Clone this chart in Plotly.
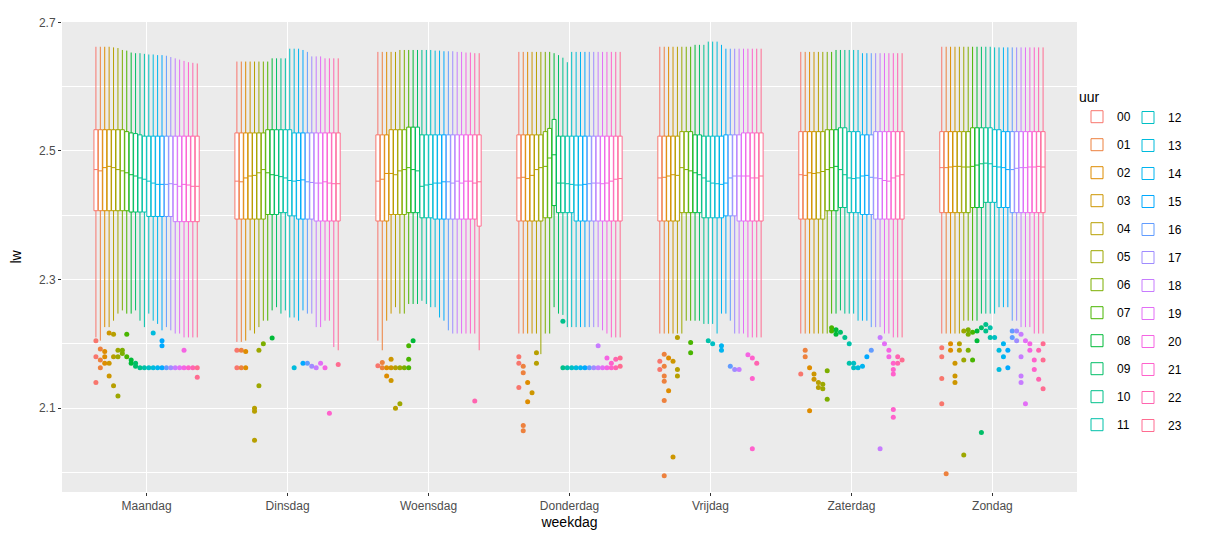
import math
import plotly.graph_objects as go

days = ["Maandag", "Dinsdag", "Woensdag", "Donderdag", "Vrijdag", "Zaterdag", "Zondag"]
hours = ["00", "01", "02", "03", "04", "05", "06", "07", "08", "09", "10", "11",
         "12", "13", "14", "15", "16", "17", "18", "19", "20", "21", "22", "23"]

# ---- Maandag ----
up_ma = [2.662, 2.662, 2.662, 2.662, 2.661, 2.660, 2.657, 2.656, 2.653, 2.652, 2.652, 2.651,
         2.650, 2.650, 2.649, 2.649, 2.648, 2.646, 2.644, 2.642, 2.640, 2.638, 2.637, 2.636]
q3_ma = [2.533, 2.533, 2.533, 2.533, 2.533, 2.533, 2.533, 2.530, 2.528, 2.527, 2.525, 2.523,
         2.523, 2.523, 2.523, 2.523, 2.523, 2.523, 2.523, 2.523, 2.523, 2.523, 2.523, 2.523]
md_ma = [2.471, 2.469, 2.474, 2.476, 2.474, 2.471, 2.469, 2.466, 2.463, 2.461, 2.458, 2.456,
         2.453, 2.450, 2.448, 2.448, 2.448, 2.449, 2.448, 2.445, 2.448, 2.447, 2.445, 2.445]
q1_ma = [2.407, 2.407, 2.407, 2.407, 2.407, 2.407, 2.407, 2.407, 2.405, 2.405, 2.405, 2.405,
         2.398, 2.398, 2.398, 2.398, 2.398, 2.398, 2.390, 2.390, 2.390, 2.390, 2.390, 2.390]
lo_ma = [2.210, 2.205, 2.226, 2.226, 2.236, 2.247, 2.252, 2.247, 2.247, 2.252, 2.236, 2.226,
         2.247, 2.236, 2.231, 2.221, 2.226, 2.221, 2.216, 2.216, 2.210, 2.210, 2.210, 2.210]
out_ma = [(0, 2.205), (0, 2.18), (0, 2.14), (1, 2.192), (1, 2.163), (1, 2.175), (2, 2.18), (2, 2.17),
          (2, 2.188), (3, 2.217), (3, 2.17), (3, 2.15), (4, 2.215), (4, 2.135), (4, 2.18), (5, 2.119),
          (5, 2.19), (5, 2.18), (6, 2.185), (6, 2.19), (7, 2.215), (7, 2.18), (8, 2.175), (8, 2.17),
          (9, 2.17), (9, 2.165), (10, 2.163), (11, 2.163), (12, 2.163), (13, 2.217), (13, 2.163),
          (14, 2.163), (15, 2.205), (15, 2.197), (15, 2.163), (16, 2.163), (17, 2.163), (18, 2.163),
          (19, 2.163), (20, 2.19), (20, 2.163), (21, 2.163), (22, 2.163), (23, 2.163), (23, 2.148)]

# ---- Dinsdag ----
up_di = [2.639, 2.639, 2.639, 2.639, 2.639, 2.639, 2.639, 2.639, 2.644, 2.644, 2.644, 2.644,
         2.659, 2.659, 2.659, 2.657, 2.654, 2.647, 2.647, 2.647, 2.644, 2.644, 2.644, 2.644]
q3_di = [2.528, 2.528, 2.528, 2.528, 2.528, 2.528, 2.528, 2.533, 2.533, 2.533, 2.533, 2.533,
         2.533, 2.528, 2.528, 2.528, 2.528, 2.528, 2.528, 2.528, 2.528, 2.528, 2.528, 2.528]
md_di = [2.453, 2.452, 2.458, 2.461, 2.462, 2.466, 2.471, 2.466, 2.463, 2.462, 2.460, 2.458,
         2.454, 2.453, 2.454, 2.455, 2.452, 2.451, 2.450, 2.450, 2.452, 2.450, 2.449, 2.449]
q1_di = [2.394, 2.394, 2.394, 2.394, 2.394, 2.394, 2.394, 2.401, 2.401, 2.401, 2.404, 2.404,
         2.399, 2.399, 2.394, 2.394, 2.394, 2.394, 2.391, 2.391, 2.391, 2.391, 2.391, 2.391]
lo_di = [2.203, 2.203, 2.205, 2.221, 2.216, 2.226, 2.236, 2.236, 2.252, 2.257, 2.247, 2.252,
         2.241, 2.241, 2.236, 2.252, 2.247, 2.247, 2.226, 2.226, 2.236, 2.236, 2.195, 2.190]
out_di = [(0, 2.19), (0, 2.163), (1, 2.19), (1, 2.163), (2, 2.188), (2, 2.163), (4, 2.1), (4, 2.095),
          (4, 2.05), (5, 2.19), (5, 2.135), (6, 2.2), (8, 2.209), (13, 2.163), (15, 2.17), (16, 2.17),
          (17, 2.165), (18, 2.163), (19, 2.17), (20, 2.163), (21, 2.092), (23, 2.168)]

# ---- Woensdag ----
up_wo = [2.654, 2.654, 2.654, 2.654, 2.654, 2.657, 2.657, 2.657, 2.657, 2.657, 2.657, 2.657,
         2.657, 2.656, 2.656, 2.655, 2.655, 2.655, 2.654, 2.654, 2.653, 2.653, 2.652, 2.652]
q3_wo = [2.525, 2.525, 2.525, 2.533, 2.533, 2.533, 2.533, 2.537, 2.537, 2.537, 2.525, 2.525,
         2.525, 2.525, 2.525, 2.525, 2.525, 2.525, 2.525, 2.525, 2.525, 2.525, 2.525, 2.525]
md_wo = [2.453, 2.456, 2.465, 2.465, 2.463, 2.469, 2.471, 2.474, 2.471, 2.469, 2.445, 2.447,
         2.448, 2.450, 2.450, 2.452, 2.452, 2.450, 2.453, 2.450, 2.453, 2.453, 2.450, 2.452]
q1_wo = [2.391, 2.391, 2.391, 2.401, 2.401, 2.401, 2.401, 2.404, 2.404, 2.404, 2.396, 2.396,
         2.396, 2.394, 2.394, 2.394, 2.394, 2.394, 2.394, 2.394, 2.394, 2.394, 2.394, 2.383]
lo_wo = [2.205, 2.190, 2.236, 2.247, 2.257, 2.247, 2.247, 2.262, 2.262, 2.262, 2.267, 2.262,
         2.257, 2.257, 2.241, 2.236, 2.221, 2.216, 2.216, 2.216, 2.216, 2.216, 2.216, 2.190]
out_wo = [(0, 2.166), (1, 2.171), (1, 2.163), (2, 2.163), (2, 2.15), (3, 2.143), (3, 2.176), (3, 2.163),
          (4, 2.163), (4, 2.1), (5, 2.163), (5, 2.107), (6, 2.163), (7, 2.163), (7, 2.176), (7, 2.197),
          (8, 2.205), (22, 2.111)]

# ---- Donderdag ----
up_do = [2.654, 2.654, 2.654, 2.654, 2.654, 2.654, 2.654, 2.654, 2.652, 2.649, 2.645, 2.638,
         2.654, 2.654, 2.654, 2.654, 2.654, 2.654, 2.654, 2.654, 2.654, 2.654, 2.654, 2.654]
q3_do = [2.525, 2.525, 2.525, 2.525, 2.525, 2.525, 2.530, 2.535, 2.549, 2.523, 2.523, 2.523,
         2.523, 2.523, 2.523, 2.523, 2.523, 2.523, 2.523, 2.523, 2.523, 2.523, 2.523, 2.523]
md_do = [2.458, 2.459, 2.457, 2.462, 2.471, 2.474, 2.476, 2.489, 2.494, 2.450, 2.450, 2.449,
         2.448, 2.447, 2.447, 2.448, 2.449, 2.450, 2.450, 2.449, 2.450, 2.453, 2.456, 2.457]
q1_do = [2.391, 2.391, 2.391, 2.391, 2.391, 2.391, 2.396, 2.396, 2.415, 2.404, 2.404, 2.404,
         2.404, 2.391, 2.391, 2.391, 2.391, 2.391, 2.391, 2.391, 2.391, 2.391, 2.391, 2.391]
lo_do = [2.216, 2.216, 2.216, 2.216, 2.216, 2.184, 2.216, 2.216, 2.257, 2.247, 2.245, 2.226,
         2.226, 2.226, 2.226, 2.226, 2.226, 2.226, 2.226, 2.221, 2.216, 2.210, 2.210, 2.210]
out_do = [(0, 2.18), (0, 2.17), (0, 2.132), (1, 2.165), (1, 2.155), (1, 2.073), (1, 2.065), (2, 2.14),
          (2, 2.11), (3, 2.124), (4, 2.186), (4, 2.17), (10, 2.235), (10, 2.163), (11, 2.163),
          (12, 2.163), (13, 2.163), (14, 2.163), (15, 2.163), (16, 2.163), (17, 2.163), (18, 2.197),
          (18, 2.163), (19, 2.163), (20, 2.178), (20, 2.163), (21, 2.17), (21, 2.163), (22, 2.163),
          (22, 2.176), (23, 2.165), (23, 2.178)]

# ---- Vrijdag ----
up_vr = [2.662, 2.662, 2.662, 2.662, 2.662, 2.662, 2.662, 2.662, 2.665, 2.665, 2.665, 2.670,
         2.670, 2.670, 2.665, 2.659, 2.659, 2.659, 2.659, 2.659, 2.659, 2.659, 2.659, 2.659]
q3_vr = [2.523, 2.523, 2.523, 2.523, 2.523, 2.530, 2.530, 2.530, 2.525, 2.525, 2.523, 2.523,
         2.523, 2.523, 2.523, 2.525, 2.525, 2.525, 2.525, 2.528, 2.528, 2.528, 2.528, 2.528]
md_vr = [2.458, 2.459, 2.461, 2.463, 2.462, 2.474, 2.471, 2.469, 2.466, 2.463, 2.458, 2.453,
         2.450, 2.449, 2.448, 2.450, 2.458, 2.461, 2.461, 2.461, 2.461, 2.458, 2.458, 2.461]
q1_vr = [2.391, 2.391, 2.391, 2.391, 2.391, 2.404, 2.404, 2.404, 2.404, 2.404, 2.396, 2.396,
         2.396, 2.396, 2.396, 2.399, 2.399, 2.399, 2.391, 2.391, 2.391, 2.391, 2.391, 2.391]
lo_vr = [2.216, 2.216, 2.216, 2.216, 2.216, 2.216, 2.236, 2.236, 2.236, 2.236, 2.231, 2.231,
         2.231, 2.216, 2.247, 2.247, 2.236, 2.216, 2.216, 2.216, 2.210, 2.210, 2.210, 2.210]
out_vr = [(0, 2.173), (0, 2.16), (1, 2.15), (1, 2.165), (1, 2.184), (1, 2.142), (1, 2.112), (1, 1.995),
          (2, 2.178), (2, 2.127), (3, 2.173), (3, 2.024), (4, 2.16), (4, 2.15), (4, 2.21), (7, 2.202),
          (7, 2.186), (11, 2.205), (12, 2.2), (14, 2.197), (14, 2.19), (16, 2.165), (17, 2.16),
          (18, 2.16), (20, 2.183), (21, 2.178), (21, 2.146), (21, 2.037), (22, 2.17)]

# ---- Zaterdag ----
up_za = [2.654, 2.654, 2.654, 2.654, 2.654, 2.654, 2.654, 2.654, 2.657, 2.657, 2.657, 2.657,
         2.657, 2.657, 2.652, 2.652, 2.652, 2.652, 2.652, 2.652, 2.652, 2.652, 2.652, 2.652]
q3_za = [2.530, 2.530, 2.530, 2.530, 2.530, 2.530, 2.533, 2.533, 2.533, 2.536, 2.536, 2.530,
         2.530, 2.530, 2.525, 2.525, 2.525, 2.530, 2.530, 2.530, 2.530, 2.530, 2.530, 2.530]
md_za = [2.463, 2.462, 2.466, 2.465, 2.466, 2.468, 2.471, 2.474, 2.476, 2.471, 2.463, 2.458,
         2.457, 2.458, 2.461, 2.462, 2.459, 2.458, 2.457, 2.454, 2.453, 2.458, 2.461, 2.463]
q1_za = [2.394, 2.394, 2.394, 2.394, 2.394, 2.394, 2.407, 2.407, 2.407, 2.412, 2.412, 2.404,
         2.404, 2.404, 2.401, 2.401, 2.401, 2.394, 2.394, 2.394, 2.394, 2.394, 2.394, 2.394]
lo_za = [2.216, 2.216, 2.216, 2.216, 2.216, 2.216, 2.216, 2.247, 2.247, 2.252, 2.247, 2.247,
         2.247, 2.236, 2.236, 2.236, 2.226, 2.226, 2.226, 2.216, 2.216, 2.210, 2.210, 2.210]
out_za = [(0, 2.153), (1, 2.19), (1, 2.18), (2, 2.163), (2, 2.096), (3, 2.153), (3, 2.145), (4, 2.14),
          (4, 2.132), (5, 2.137), (5, 2.13), (6, 2.158), (6, 2.114), (7, 2.225), (7, 2.22), (8, 2.222),
          (8, 2.215), (9, 2.218), (10, 2.21), (11, 2.2), (11, 2.17), (12, 2.163), (12, 2.17),
          (13, 2.163), (14, 2.165), (15, 2.18), (16, 2.19), (18, 2.21), (18, 2.037), (19, 2.2),
          (20, 2.19), (20, 2.18), (21, 2.17), (21, 2.16), (21, 2.153), (21, 2.098), (21, 2.086),
          (22, 2.18), (22, 2.17), (23, 2.175)]

# ---- Zondag ----
up_zo = [2.662, 2.662, 2.662, 2.662, 2.662, 2.662, 2.662, 2.662, 2.662, 2.662, 2.662, 2.662,
         2.661, 2.661, 2.661, 2.661, 2.661, 2.661, 2.661, 2.661, 2.661, 2.661, 2.661, 2.661]
q3_zo = [2.530, 2.530, 2.530, 2.530, 2.530, 2.530, 2.530, 2.536, 2.536, 2.536, 2.536, 2.536,
         2.533, 2.533, 2.530, 2.530, 2.530, 2.530, 2.530, 2.530, 2.530, 2.530, 2.530, 2.530]
md_zo = [2.474, 2.474, 2.475, 2.476, 2.476, 2.475, 2.475, 2.476, 2.478, 2.480, 2.481, 2.480,
         2.476, 2.475, 2.474, 2.471, 2.471, 2.473, 2.474, 2.474, 2.475, 2.475, 2.476, 2.475]
q1_zo = [2.404, 2.404, 2.404, 2.404, 2.404, 2.404, 2.404, 2.412, 2.412, 2.412, 2.420, 2.420,
         2.420, 2.412, 2.412, 2.412, 2.404, 2.404, 2.404, 2.404, 2.404, 2.404, 2.404, 2.404]
lo_zo = [2.216, 2.216, 2.216, 2.216, 2.216, 2.236, 2.236, 2.236, 2.236, 2.247, 2.247, 2.247,
         2.247, 2.257, 2.257, 2.257, 2.236, 2.236, 2.226, 2.226, 2.226, 2.216, 2.216, 2.216]
out_zo = [(0, 2.194), (0, 2.18), (0, 2.146), (0, 2.107), (1, 1.998), (2, 2.2), (2, 2.19), (3, 2.17),
          (3, 2.15), (3, 2.14), (4, 2.19), (4, 2.2), (5, 2.22), (5, 2.175), (5, 2.027), (6, 2.215),
          (6, 2.19), (6, 2.222), (7, 2.218), (7, 2.175), (8, 2.205), (8, 2.22), (9, 2.062), (9, 2.225),
          (10, 2.23), (10, 2.22), (11, 2.21), (11, 2.225), (12, 2.21), (13, 2.19), (13, 2.16),
          (14, 2.18), (14, 2.2), (15, 2.163), (15, 2.19), (16, 2.22), (16, 2.21), (17, 2.205),
          (17, 2.22), (18, 2.215), (18, 2.18), (18, 2.15), (18, 2.14), (19, 2.205), (19, 2.107),
          (20, 2.2), (20, 2.19), (21, 2.175), (21, 2.16), (22, 2.145), (22, 2.19), (23, 2.13),
          (23, 2.2), (23, 2.175)]

upper = [up_ma, up_di, up_wo, up_do, up_vr, up_za, up_zo]
q3 = [q3_ma, q3_di, q3_wo, q3_do, q3_vr, q3_za, q3_zo]
med = [md_ma, md_di, md_wo, md_do, md_vr, md_za, md_zo]
q1 = [q1_ma, q1_di, q1_wo, q1_do, q1_vr, q1_za, q1_zo]
lower = [lo_ma, lo_di, lo_wo, lo_do, lo_vr, lo_za, lo_zo]
outliers = [out_ma, out_di, out_wo, out_do, out_vr, out_za, out_zo]


def hcl_hex(h, c=100.0, l=65.0):
    hr = math.radians(h)
    U, V = c * math.cos(hr), c * math.sin(hr)
    Xn, Yn, Zn = 95.047, 100.0, 108.883
    Y = Yn * ((l + 16) / 116) ** 3
    den = Xn + 15 * Yn + 3 * Zn
    un, vn = 4 * Xn / den, 9 * Yn / den
    u = U / (13 * l) + un
    v = V / (13 * l) + vn
    X = Y * 9 * u / (4 * v)
    Z = Y * (12 - 3 * u - 20 * v) / (4 * v)
    X, Y, Z = X / 100, Y / 100, Z / 100
    rl = 3.240479 * X - 1.537150 * Y - 0.498535 * Z
    gl = -0.969256 * X + 1.875992 * Y + 0.041556 * Z
    bl = 0.055648 * X - 0.204043 * Y + 1.057311 * Z

    def g(x):
        x = 12.92 * x if x <= 0.0031308 else 1.055 * x ** (1 / 2.4) - 0.055
        return int(round(min(max(x, 0), 1) * 255))
    return "#%02X%02X%02X" % (g(rl), g(gl), g(bl))


colors = [hcl_hex(15 + 15 * i) for i in range(24)]

fig = go.Figure()
for h in range(24):
    col = colors[h]
    leg = "legend" if h < 12 else "legend2"
    fig.add_trace(go.Box(
        x=days,
        q1=[q1[d][h] for d in range(7)],
        median=[med[d][h] for d in range(7)],
        q3=[q3[d][h] for d in range(7)],
        lowerfence=[lower[d][h] for d in range(7)],
        upperfence=[upper[d][h] for d in range(7)],
        name=hours[h],
        line=dict(color=col, width=1),
        marker=dict(color=col),
        fillcolor="white",
        whiskerwidth=0,
        boxpoints=False,
        legend=leg,
        legendgroup=hours[h],
        hoverinfo="skip",
    ))

for h in range(24):
    xs, ys = [], []
    for d in range(7):
        for hh, val in outliers[d]:
            if hh == h:
                xs.append(days[d])
                ys.append(val)
    fig.add_trace(go.Scatter(
        x=xs, y=ys, mode="markers", orientation="v",
        marker=dict(color=colors[h], size=5, line=dict(width=0)),
        showlegend=False, legendgroup=hours[h], hoverinfo="skip",
    ))

# the page body adds an 8px offset, so figure pixels are shifted accordingly
PLOT_TOP, PLOT_BOTTOM = 14, 484
font_family = "Liberation Sans, Arial, sans-serif"
fig.update_layout(
    width=1225, height=536,
    margin=dict(l=54, r=148, t=PLOT_TOP, b=536 - PLOT_BOTTOM),
    paper_bgcolor="white",
    plot_bgcolor="#EBEBEB",
    font=dict(family=font_family, color="#4D4D4D", size=12),
    boxmode="group", boxgap=0.25, boxgroupgap=0.1,
    scattermode="group", scattergap=0.25,
    xaxis=dict(
        type="category", categoryorder="array", categoryarray=days,
        range=[-0.6, 6.6], automargin=False,
        showgrid=True, gridcolor="white", gridwidth=1.1,
        ticks="outside", ticklen=3, tickcolor="#333333", tickwidth=1,
        tickfont=dict(size=12, color="#4D4D4D"),
        title=dict(text="weekdag", font=dict(size=14, color="black"), standoff=4),
        zeroline=False, showline=False,
    ),
    yaxis=dict(
        range=[1.9696, 2.7005], automargin=False,
        tickvals=[2.1, 2.3, 2.5, 2.7], ticktext=["2.1", "2.3", "2.5", "2.7"],
        showgrid=True, gridcolor="white", gridwidth=1.1,
        minor=dict(tickvals=[2.0, 2.2, 2.4, 2.6], showgrid=True, gridcolor="white", gridwidth=0.55),
        ticks="outside", ticklen=3, tickcolor="#333333", tickwidth=1,
        tickfont=dict(size=12, color="#4D4D4D"),
        title=dict(text="lw", font=dict(size=14, color="black"), standoff=20),
        zeroline=False, showline=False,
    ),
    legend=dict(
        xref="container", yref="paper", x=1069 / 1225,
        y=(PLOT_BOTTOM - 76) / (PLOT_BOTTOM - PLOT_TOP),
        xanchor="left", yanchor="top",
        title=dict(text="uur", font=dict(size=14, color="black")),
        font=dict(size=12, color="black"),
        traceorder="grouped", tracegroupgap=9, bgcolor="rgba(0,0,0,0)",
    ),
    legend2=dict(
        xref="container", yref="paper", x=1120 / 1225,
        y=(PLOT_BOTTOM - 95) / (PLOT_BOTTOM - PLOT_TOP),
        xanchor="left", yanchor="top",
        font=dict(size=12, color="black"),
        traceorder="grouped", tracegroupgap=9, bgcolor="rgba(0,0,0,0)",
    ),
)

fig.write_html("out.html")
